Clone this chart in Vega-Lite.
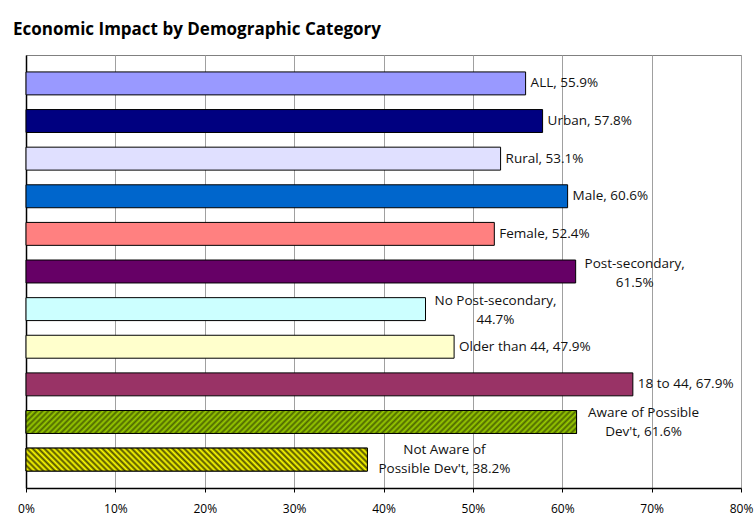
{
  "$schema": "https://vega.github.io/schema/vega-lite/v6.json",
  "width": 715,
  "height": 433,
  "autosize": {"type": "none"},
  "padding": {"left": 26, "top": 55, "right": 13, "bottom": 30},
  "background": "white",
  "title": {"text": "Economic Impact by Demographic Category", "anchor": "start", "frame": "group", "dx": -13, "offset": 16, "font": "Open Sans", "fontSize": 17, "fontWeight": "bold", "color": "#000000"},
  "config": {"view": {"stroke": "#808080", "strokeWidth": 1}, "font": "Open Sans"},
  "data": {"values": [
    {"cat": "ALL", "value": 0.559, "label": "ALL, 55.9%"},
    {"cat": "Urban", "value": 0.578, "label": "Urban, 57.8%"},
    {"cat": "Rural", "value": 0.531, "label": "Rural, 53.1%"},
    {"cat": "Male", "value": 0.606, "label": "Male, 60.6%"},
    {"cat": "Female", "value": 0.524, "label": "Female, 52.4%"},
    {"cat": "Post-secondary", "value": 0.615, "label": "Post-secondary,\n61.5%"},
    {"cat": "No Post-secondary", "value": 0.447, "label": "No Post-secondary,\n44.7%"},
    {"cat": "Older than 44", "value": 0.479, "label": "Older than 44, 47.9%"},
    {"cat": "18 to 44", "value": 0.679, "label": "18 to 44, 67.9%"},
    {"cat": "Aware of Possible Dev't", "value": 0.616, "label": "Aware of Possible\nDev't, 61.6%"},
    {"cat": "Not Aware of Possible Dev't", "value": 0.382, "label": "Not Aware of\nPossible Dev't, 38.2%"}
  ]},
  "encoding": {
    "y": {"field": "cat", "type": "nominal", "sort": null, "scale": {"paddingInner": 0.39, "paddingOuter": 0.45}, "axis": {"labels": false, "ticks": false, "title": null, "domainColor": "#000000", "domainWidth": 1.5, "grid": false}},
    "x": {"field": "value", "type": "quantitative", "scale": {"domain": [0, 0.8], "nice": false}, "axis": {"values": [0, 0.1, 0.2, 0.3, 0.4, 0.5, 0.6, 0.7, 0.8], "format": ".0%", "title": null, "grid": true, "gridColor": "#a0a0a0", "gridWidth": 1, "domainColor": "#000000", "domainWidth": 1.5, "tickColor": "#000000", "tickSize": 4, "labelFont": "Open Sans", "labelFontSize": 12, "labelColor": "#000000", "labelPadding": 11, "labelFlush": false}}
  },
  "layer": [
    {
      "mark": {"type": "bar", "stroke": "#000000", "strokeWidth": 1},
      "encoding": {"color": {"field": "cat", "type": "nominal", "sort": null, "legend": null, "scale": {
        "domain": ["ALL", "Urban", "Rural", "Male", "Female", "Post-secondary", "No Post-secondary", "Older than 44", "18 to 44", "Aware of Possible Dev't", "Not Aware of Possible Dev't"],
        "range": ["#9999ff", "#000080", "#e0e0ff", "#0066cc", "#ff8080", "#660066", "#ccffff", "#ffffcc", "#993366", "#99cc00", "#ffff00"]}}}
    },
    {
      "transform": [{"filter": {"field": "cat", "equal": "Aware of Possible Dev't"}}],
      "mark": {"type": "bar", "stroke": "#000000", "strokeWidth": 1, "fill": {"gradient": "linear", "x1": 0, "y1": 0, "x2": 1.03986, "y2": 0.043321, "stops": [
        {"offset":0,"color":"#4d6600"},{"offset":0.005,"color":"#99cc00"},{"offset":0.01,"color":"#4d6600"},{"offset":0.015,"color":"#99cc00"},{"offset":0.02,"color":"#4d6600"},{"offset":0.025,"color":"#99cc00"},{"offset":0.03,"color":"#4d6600"},{"offset":0.035,"color":"#99cc00"},{"offset":0.04,"color":"#4d6600"},{"offset":0.045,"color":"#99cc00"},
        {"offset":0.05,"color":"#4d6600"},{"offset":0.055,"color":"#99cc00"},{"offset":0.06,"color":"#4d6600"},{"offset":0.065,"color":"#99cc00"},{"offset":0.07,"color":"#4d6600"},{"offset":0.075,"color":"#99cc00"},{"offset":0.08,"color":"#4d6600"},{"offset":0.085,"color":"#99cc00"},{"offset":0.09,"color":"#4d6600"},{"offset":0.095,"color":"#99cc00"},
        {"offset":0.1,"color":"#4d6600"},{"offset":0.105,"color":"#99cc00"},{"offset":0.11,"color":"#4d6600"},{"offset":0.115,"color":"#99cc00"},{"offset":0.12,"color":"#4d6600"},{"offset":0.125,"color":"#99cc00"},{"offset":0.13,"color":"#4d6600"},{"offset":0.135,"color":"#99cc00"},{"offset":0.14,"color":"#4d6600"},{"offset":0.145,"color":"#99cc00"},
        {"offset":0.15,"color":"#4d6600"},{"offset":0.155,"color":"#99cc00"},{"offset":0.16,"color":"#4d6600"},{"offset":0.165,"color":"#99cc00"},{"offset":0.17,"color":"#4d6600"},{"offset":0.175,"color":"#99cc00"},{"offset":0.18,"color":"#4d6600"},{"offset":0.185,"color":"#99cc00"},{"offset":0.19,"color":"#4d6600"},{"offset":0.195,"color":"#99cc00"},
        {"offset":0.2,"color":"#4d6600"},{"offset":0.205,"color":"#99cc00"},{"offset":0.21,"color":"#4d6600"},{"offset":0.215,"color":"#99cc00"},{"offset":0.22,"color":"#4d6600"},{"offset":0.225,"color":"#99cc00"},{"offset":0.23,"color":"#4d6600"},{"offset":0.235,"color":"#99cc00"},{"offset":0.24,"color":"#4d6600"},{"offset":0.245,"color":"#99cc00"},
        {"offset":0.25,"color":"#4d6600"},{"offset":0.255,"color":"#99cc00"},{"offset":0.26,"color":"#4d6600"},{"offset":0.265,"color":"#99cc00"},{"offset":0.27,"color":"#4d6600"},{"offset":0.275,"color":"#99cc00"},{"offset":0.28,"color":"#4d6600"},{"offset":0.285,"color":"#99cc00"},{"offset":0.29,"color":"#4d6600"},{"offset":0.295,"color":"#99cc00"},
        {"offset":0.3,"color":"#4d6600"},{"offset":0.305,"color":"#99cc00"},{"offset":0.31,"color":"#4d6600"},{"offset":0.315,"color":"#99cc00"},{"offset":0.32,"color":"#4d6600"},{"offset":0.325,"color":"#99cc00"},{"offset":0.33,"color":"#4d6600"},{"offset":0.335,"color":"#99cc00"},{"offset":0.34,"color":"#4d6600"},{"offset":0.345,"color":"#99cc00"},
        {"offset":0.35,"color":"#4d6600"},{"offset":0.355,"color":"#99cc00"},{"offset":0.36,"color":"#4d6600"},{"offset":0.365,"color":"#99cc00"},{"offset":0.37,"color":"#4d6600"},{"offset":0.375,"color":"#99cc00"},{"offset":0.38,"color":"#4d6600"},{"offset":0.385,"color":"#99cc00"},{"offset":0.39,"color":"#4d6600"},{"offset":0.395,"color":"#99cc00"},
        {"offset":0.4,"color":"#4d6600"},{"offset":0.405,"color":"#99cc00"},{"offset":0.41,"color":"#4d6600"},{"offset":0.415,"color":"#99cc00"},{"offset":0.42,"color":"#4d6600"},{"offset":0.425,"color":"#99cc00"},{"offset":0.43,"color":"#4d6600"},{"offset":0.435,"color":"#99cc00"},{"offset":0.44,"color":"#4d6600"},{"offset":0.445,"color":"#99cc00"},
        {"offset":0.45,"color":"#4d6600"},{"offset":0.455,"color":"#99cc00"},{"offset":0.46,"color":"#4d6600"},{"offset":0.465,"color":"#99cc00"},{"offset":0.47,"color":"#4d6600"},{"offset":0.475,"color":"#99cc00"},{"offset":0.48,"color":"#4d6600"},{"offset":0.485,"color":"#99cc00"},{"offset":0.49,"color":"#4d6600"},{"offset":0.495,"color":"#99cc00"},
        {"offset":0.5,"color":"#4d6600"},{"offset":0.505,"color":"#99cc00"},{"offset":0.51,"color":"#4d6600"},{"offset":0.515,"color":"#99cc00"},{"offset":0.52,"color":"#4d6600"},{"offset":0.525,"color":"#99cc00"},{"offset":0.53,"color":"#4d6600"},{"offset":0.535,"color":"#99cc00"},{"offset":0.54,"color":"#4d6600"},{"offset":0.545,"color":"#99cc00"},
        {"offset":0.55,"color":"#4d6600"},{"offset":0.555,"color":"#99cc00"},{"offset":0.56,"color":"#4d6600"},{"offset":0.565,"color":"#99cc00"},{"offset":0.57,"color":"#4d6600"},{"offset":0.575,"color":"#99cc00"},{"offset":0.58,"color":"#4d6600"},{"offset":0.585,"color":"#99cc00"},{"offset":0.59,"color":"#4d6600"},{"offset":0.595,"color":"#99cc00"},
        {"offset":0.6,"color":"#4d6600"},{"offset":0.605,"color":"#99cc00"},{"offset":0.61,"color":"#4d6600"},{"offset":0.615,"color":"#99cc00"},{"offset":0.62,"color":"#4d6600"},{"offset":0.625,"color":"#99cc00"},{"offset":0.63,"color":"#4d6600"},{"offset":0.635,"color":"#99cc00"},{"offset":0.64,"color":"#4d6600"},{"offset":0.645,"color":"#99cc00"},
        {"offset":0.65,"color":"#4d6600"},{"offset":0.655,"color":"#99cc00"},{"offset":0.66,"color":"#4d6600"},{"offset":0.665,"color":"#99cc00"},{"offset":0.67,"color":"#4d6600"},{"offset":0.675,"color":"#99cc00"},{"offset":0.68,"color":"#4d6600"},{"offset":0.685,"color":"#99cc00"},{"offset":0.69,"color":"#4d6600"},{"offset":0.695,"color":"#99cc00"},
        {"offset":0.7,"color":"#4d6600"},{"offset":0.705,"color":"#99cc00"},{"offset":0.71,"color":"#4d6600"},{"offset":0.715,"color":"#99cc00"},{"offset":0.72,"color":"#4d6600"},{"offset":0.725,"color":"#99cc00"},{"offset":0.73,"color":"#4d6600"},{"offset":0.735,"color":"#99cc00"},{"offset":0.74,"color":"#4d6600"},{"offset":0.745,"color":"#99cc00"},
        {"offset":0.75,"color":"#4d6600"},{"offset":0.755,"color":"#99cc00"},{"offset":0.76,"color":"#4d6600"},{"offset":0.765,"color":"#99cc00"},{"offset":0.77,"color":"#4d6600"},{"offset":0.775,"color":"#99cc00"},{"offset":0.78,"color":"#4d6600"},{"offset":0.785,"color":"#99cc00"},{"offset":0.79,"color":"#4d6600"},{"offset":0.795,"color":"#99cc00"},
        {"offset":0.8,"color":"#4d6600"},{"offset":0.805,"color":"#99cc00"},{"offset":0.81,"color":"#4d6600"},{"offset":0.815,"color":"#99cc00"},{"offset":0.82,"color":"#4d6600"},{"offset":0.825,"color":"#99cc00"},{"offset":0.83,"color":"#4d6600"},{"offset":0.835,"color":"#99cc00"},{"offset":0.84,"color":"#4d6600"},{"offset":0.845,"color":"#99cc00"},
        {"offset":0.85,"color":"#4d6600"},{"offset":0.855,"color":"#99cc00"},{"offset":0.86,"color":"#4d6600"},{"offset":0.865,"color":"#99cc00"},{"offset":0.87,"color":"#4d6600"},{"offset":0.875,"color":"#99cc00"},{"offset":0.88,"color":"#4d6600"},{"offset":0.885,"color":"#99cc00"},{"offset":0.89,"color":"#4d6600"},{"offset":0.895,"color":"#99cc00"},
        {"offset":0.9,"color":"#4d6600"},{"offset":0.905,"color":"#99cc00"},{"offset":0.91,"color":"#4d6600"},{"offset":0.915,"color":"#99cc00"},{"offset":0.92,"color":"#4d6600"},{"offset":0.925,"color":"#99cc00"},{"offset":0.93,"color":"#4d6600"},{"offset":0.935,"color":"#99cc00"},{"offset":0.94,"color":"#4d6600"},{"offset":0.945,"color":"#99cc00"},
        {"offset":0.95,"color":"#4d6600"},{"offset":0.955,"color":"#99cc00"},{"offset":0.96,"color":"#4d6600"},{"offset":0.965,"color":"#99cc00"},{"offset":0.97,"color":"#4d6600"},{"offset":0.975,"color":"#99cc00"},{"offset":0.98,"color":"#4d6600"},{"offset":0.985,"color":"#99cc00"},{"offset":0.99,"color":"#4d6600"},{"offset":0.995,"color":"#99cc00"},
        {"offset":1,"color":"#4d6600"}
      ]}}
    },
    {
      "transform": [{"filter": {"field": "cat", "equal": "Not Aware of Possible Dev't"}}],
      "mark": {"type": "bar", "stroke": "#000000", "strokeWidth": 1, "fill": {"gradient": "linear", "x1": 0, "y1": 1, "x2": 1.06238, "y2": 0.92863, "stops": [
        {"offset":0,"color":"#4d4d00"},{"offset":0.008,"color":"#ffff00"},{"offset":0.016,"color":"#4d4d00"},{"offset":0.024,"color":"#ffff00"},{"offset":0.032,"color":"#4d4d00"},{"offset":0.04,"color":"#ffff00"},{"offset":0.048,"color":"#4d4d00"},{"offset":0.056,"color":"#ffff00"},{"offset":0.064,"color":"#4d4d00"},{"offset":0.072,"color":"#ffff00"},
        {"offset":0.08,"color":"#4d4d00"},{"offset":0.088,"color":"#ffff00"},{"offset":0.096,"color":"#4d4d00"},{"offset":0.104,"color":"#ffff00"},{"offset":0.112,"color":"#4d4d00"},{"offset":0.12,"color":"#ffff00"},{"offset":0.128,"color":"#4d4d00"},{"offset":0.136,"color":"#ffff00"},{"offset":0.144,"color":"#4d4d00"},{"offset":0.152,"color":"#ffff00"},
        {"offset":0.16,"color":"#4d4d00"},{"offset":0.168,"color":"#ffff00"},{"offset":0.176,"color":"#4d4d00"},{"offset":0.184,"color":"#ffff00"},{"offset":0.192,"color":"#4d4d00"},{"offset":0.2,"color":"#ffff00"},{"offset":0.208,"color":"#4d4d00"},{"offset":0.216,"color":"#ffff00"},{"offset":0.224,"color":"#4d4d00"},{"offset":0.232,"color":"#ffff00"},
        {"offset":0.24,"color":"#4d4d00"},{"offset":0.248,"color":"#ffff00"},{"offset":0.256,"color":"#4d4d00"},{"offset":0.264,"color":"#ffff00"},{"offset":0.272,"color":"#4d4d00"},{"offset":0.28,"color":"#ffff00"},{"offset":0.288,"color":"#4d4d00"},{"offset":0.296,"color":"#ffff00"},{"offset":0.304,"color":"#4d4d00"},{"offset":0.312,"color":"#ffff00"},
        {"offset":0.32,"color":"#4d4d00"},{"offset":0.328,"color":"#ffff00"},{"offset":0.336,"color":"#4d4d00"},{"offset":0.344,"color":"#ffff00"},{"offset":0.352,"color":"#4d4d00"},{"offset":0.36,"color":"#ffff00"},{"offset":0.368,"color":"#4d4d00"},{"offset":0.376,"color":"#ffff00"},{"offset":0.384,"color":"#4d4d00"},{"offset":0.392,"color":"#ffff00"},
        {"offset":0.4,"color":"#4d4d00"},{"offset":0.408,"color":"#ffff00"},{"offset":0.416,"color":"#4d4d00"},{"offset":0.424,"color":"#ffff00"},{"offset":0.432,"color":"#4d4d00"},{"offset":0.44,"color":"#ffff00"},{"offset":0.448,"color":"#4d4d00"},{"offset":0.456,"color":"#ffff00"},{"offset":0.464,"color":"#4d4d00"},{"offset":0.472,"color":"#ffff00"},
        {"offset":0.48,"color":"#4d4d00"},{"offset":0.488,"color":"#ffff00"},{"offset":0.496,"color":"#4d4d00"},{"offset":0.504,"color":"#ffff00"},{"offset":0.512,"color":"#4d4d00"},{"offset":0.52,"color":"#ffff00"},{"offset":0.528,"color":"#4d4d00"},{"offset":0.536,"color":"#ffff00"},{"offset":0.544,"color":"#4d4d00"},{"offset":0.552,"color":"#ffff00"},
        {"offset":0.56,"color":"#4d4d00"},{"offset":0.568,"color":"#ffff00"},{"offset":0.576,"color":"#4d4d00"},{"offset":0.584,"color":"#ffff00"},{"offset":0.592,"color":"#4d4d00"},{"offset":0.6,"color":"#ffff00"},{"offset":0.608,"color":"#4d4d00"},{"offset":0.616,"color":"#ffff00"},{"offset":0.624,"color":"#4d4d00"},{"offset":0.632,"color":"#ffff00"},
        {"offset":0.64,"color":"#4d4d00"},{"offset":0.648,"color":"#ffff00"},{"offset":0.656,"color":"#4d4d00"},{"offset":0.664,"color":"#ffff00"},{"offset":0.672,"color":"#4d4d00"},{"offset":0.68,"color":"#ffff00"},{"offset":0.688,"color":"#4d4d00"},{"offset":0.696,"color":"#ffff00"},{"offset":0.704,"color":"#4d4d00"},{"offset":0.712,"color":"#ffff00"},
        {"offset":0.72,"color":"#4d4d00"},{"offset":0.728,"color":"#ffff00"},{"offset":0.736,"color":"#4d4d00"},{"offset":0.744,"color":"#ffff00"},{"offset":0.752,"color":"#4d4d00"},{"offset":0.76,"color":"#ffff00"},{"offset":0.768,"color":"#4d4d00"},{"offset":0.776,"color":"#ffff00"},{"offset":0.784,"color":"#4d4d00"},{"offset":0.792,"color":"#ffff00"},
        {"offset":0.8,"color":"#4d4d00"},{"offset":0.808,"color":"#ffff00"},{"offset":0.816,"color":"#4d4d00"},{"offset":0.824,"color":"#ffff00"},{"offset":0.832,"color":"#4d4d00"},{"offset":0.84,"color":"#ffff00"},{"offset":0.848,"color":"#4d4d00"},{"offset":0.856,"color":"#ffff00"},{"offset":0.864,"color":"#4d4d00"},{"offset":0.872,"color":"#ffff00"},
        {"offset":0.88,"color":"#4d4d00"},{"offset":0.888,"color":"#ffff00"},{"offset":0.896,"color":"#4d4d00"},{"offset":0.904,"color":"#ffff00"},{"offset":0.912,"color":"#4d4d00"},{"offset":0.92,"color":"#ffff00"},{"offset":0.928,"color":"#4d4d00"},{"offset":0.936,"color":"#ffff00"},{"offset":0.944,"color":"#4d4d00"},{"offset":0.952,"color":"#ffff00"},
        {"offset":0.96,"color":"#4d4d00"},{"offset":0.968,"color":"#ffff00"},{"offset":0.976,"color":"#4d4d00"},{"offset":0.984,"color":"#ffff00"},{"offset":0.992,"color":"#4d4d00"},{"offset":1,"color":"#ffff00"}
      ]}}
    },
    {
      "transform": [{"filter": {"not": {"field": "cat", "oneOf": ["Post-secondary", "No Post-secondary", "Aware of Possible Dev't", "Not Aware of Possible Dev't"]}}}],
      "mark": {"type": "text", "align": "left", "baseline": "middle", "dx": 5, "font": "Open Sans", "fontSize": 13.5, "color": "#111111"},
      "encoding": {"text": {"field": "label"}}
    },
    {
      "transform": [{"filter": {"field": "cat", "equal": "Post-secondary"}}],
      "mark": {"type": "text", "align": "center", "baseline": "middle", "dx": 59, "dy": -8, "font": "Open Sans", "fontSize": 13.5, "color": "#111111", "lineBreak": "\n", "lineHeight": 19},
      "encoding": {"text": {"field": "label"}}
    },
    {
      "transform": [{"filter": {"field": "cat", "equal": "No Post-secondary"}}],
      "mark": {"type": "text", "align": "center", "baseline": "middle", "dx": 70, "dy": -8, "font": "Open Sans", "fontSize": 13.5, "color": "#111111", "lineBreak": "\n", "lineHeight": 19},
      "encoding": {"text": {"field": "label"}}
    },
    {
      "transform": [{"filter": {"field": "cat", "equal": "Aware of Possible Dev't"}}],
      "mark": {"type": "text", "align": "center", "baseline": "middle", "dx": 67, "dy": -9, "font": "Open Sans", "fontSize": 13.5, "color": "#111111", "lineBreak": "\n", "lineHeight": 19},
      "encoding": {"text": {"field": "label"}}
    },
    {
      "transform": [{"filter": {"field": "cat", "equal": "Not Aware of Possible Dev't"}}],
      "mark": {"type": "text", "align": "center", "baseline": "middle", "dx": 77, "dy": -9.5, "font": "Open Sans", "fontSize": 13.5, "color": "#111111", "lineBreak": "\n", "lineHeight": 19},
      "encoding": {"text": {"field": "label"}}
    }
  ]
}
